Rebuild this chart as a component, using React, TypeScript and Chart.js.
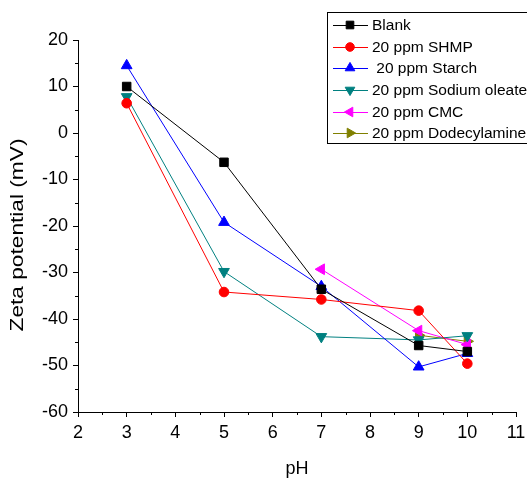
import React, { useEffect, useRef } from "react";
import { Chart, registerables } from "chart.js";
import { drawPoint } from "chart.js/helpers";

Chart.register(...registerables);

const FONT = "'Liberation Sans', Arial, sans-serif";

// pH values where zeta potential was measured
const phAll = [3, 5, 7, 9, 10];
const phCMC = [7, 9, 10];
const phDodecyl = [9, 10];

// Zeta potential (mV)
const blank = [10, -6.3, -33.6, -45.7, -47];
const shmp = [6.4, -34.2, -35.8, -38.2, -49.6];
const starch = [14.5, -19.2, -33, -50.3, -47.4];
const sodiumOleate = [7.8, -29.8, -43.8, -44.5, -43.6];
const cmc = [-29.3, -42.5, -45.5];
const dodecylamine = [-43.5, -44.8];

const seriesNames = [
  "Blank",
  "20 ppm SHMP",
  " 20 ppm Starch",
  "20 ppm Sodium oleate",
  "20 ppm CMC",
  "20 ppm Dodecylamine",
];

const xTicks = [2, 3, 4, 5, 6, 7, 8, 9, 10, 11];
const yTicks = [20, 10, 0, -10, -20, -30, -40, -50, -60];

const toPoints = (xs: number[], ys: number[]) => xs.map((x, i) => ({ x, y: ys[i] }));

const makeSet = (
  label: string,
  xs: number[],
  ys: number[],
  color: string,
  pointStyle: string,
  rotation: number,
  radius: number
) => ({
  label,
  data: toPoints(xs, ys),
  borderColor: color,
  backgroundColor: color,
  pointBackgroundColor: color,
  pointBorderColor: color,
  borderWidth: 1,
  pointBorderWidth: 1,
  pointStyle,
  pointRotation: rotation,
  pointRadius: radius,
  tension: 0,
});

// Minor ticks between the labelled ones, plus the two axis titles
const axisExtras = {
  id: "axisExtras",
  afterDraw(chart: any) {
    const ctx = chart.ctx;
    const xs = chart.scales.x;
    const ys = chart.scales.y;
    const area = chart.chartArea;
    ctx.save();
    ctx.strokeStyle = "#000";
    ctx.lineWidth = 1;
    ctx.beginPath();
    for (let v = 2.5; v < 11; v += 1) {
      const px = Math.round(xs.getPixelForValue(v)) + 0.5;
      ctx.moveTo(px, area.bottom);
      ctx.lineTo(px, area.bottom + 3);
    }
    for (let v = -55; v < 20; v += 10) {
      const py = Math.round(ys.getPixelForValue(v)) + 0.5;
      ctx.moveTo(area.left - 3, py);
      ctx.lineTo(area.left, py);
    }
    ctx.stroke();

    ctx.fillStyle = "#000";
    ctx.font = `18px ${FONT}`;
    ctx.textAlign = "center";
    ctx.textBaseline = "middle";
    ctx.fillText("pH", (area.left + area.right) / 2, 469);
    ctx.translate(18, 235);
    ctx.rotate(-Math.PI / 2);
    ctx.scale(1.26, 1);
    ctx.fillText("Zeta potential (mV)", 0, 0);
    ctx.restore();
  },
};

const legendBox = {
  id: "legendBox",
  afterDraw(chart: any) {
    const ctx = chart.ctx;
    ctx.save();
    ctx.strokeStyle = "#000";
    ctx.lineWidth = 1;
    ctx.strokeRect(327.5, 12.5, 210, 131);
    const rows = [25, 47, 68, 90, 112, 133];
    ctx.font = `15.5px ${FONT}`;
    ctx.textBaseline = "middle";
    ctx.textAlign = "left";
    chart.data.datasets.forEach((ds: any, i: number) => {
      const y = rows[i];
      ctx.strokeStyle = ds.borderColor;
      ctx.fillStyle = ds.borderColor;
      ctx.lineWidth = 1;
      ctx.beginPath();
      ctx.moveTo(333, y + 0.5);
      ctx.lineTo(368, y + 0.5);
      ctx.stroke();
      drawPoint(
        ctx,
        {
          pointStyle: ds.pointStyle,
          rotation: ds.pointRotation,
          radius: ds.pointRadius * 0.9,
          borderWidth: 1,
        } as any,
        350,
        y
      );
      ctx.fillStyle = "#000";
      ctx.fillText(seriesNames[i], 372, y + 1);
    });
    ctx.restore();
  },
};

export default function App() {
  const ref = useRef<HTMLCanvasElement | null>(null);

  useEffect(() => {
    if (!ref.current) return;
    Chart.defaults.font.family = FONT;
    const chart = new Chart(ref.current, {
      type: "line",
      data: {
        datasets: [
          makeSet(seriesNames[0], phAll, blank, "#000000", "rect", 0, 6),
          makeSet(seriesNames[1], phAll, shmp, "#ff0000", "circle", 0, 4.8),
          makeSet(seriesNames[2], phAll, starch, "#0000ff", "triangle", 0, 6.2),
          makeSet(seriesNames[3], phAll, sodiumOleate, "#008080", "triangle", 180, 6.2),
          makeSet(seriesNames[4], phCMC, cmc, "#ff00ff", "triangle", -90, 6.2),
          makeSet(seriesNames[5], phDodecyl, dodecylamine, "#808000", "triangle", 90, 6.2),
        ] as any,
      },
      options: {
        responsive: false,
        animation: false,
        layout: { padding: { left: 0, top: 40, right: 0, bottom: 0 } },
        plugins: {
          legend: { display: false },
          tooltip: { enabled: false },
        },
        scales: {
          x: {
            type: "linear",
            min: 2,
            max: 11,
            afterBuildTicks: (s: any) => {
              s.ticks = xTicks.map((v) => ({ value: v }));
            },
            afterFit: (s: any) => {
              s.height = 70;
              s.paddingRight = 11;
            },
            grid: {
              drawOnChartArea: false,
              drawTicks: true,
              tickLength: 5,
              color: "#000",
            },
            border: { display: true, color: "#000", width: 1 },
            ticks: {
              color: "#000",
              font: { size: 18, family: FONT },
              padding: 5,
              maxRotation: 0,
            },
          },
          y: {
            type: "linear",
            min: -60,
            max: 20,
            afterBuildTicks: (s: any) => {
              s.ticks = yTicks.map((v) => ({ value: v }));
            },
            afterFit: (s: any) => {
              s.width = 78;
            },
            grid: {
              drawOnChartArea: false,
              drawTicks: true,
              tickLength: 5,
              color: "#000",
            },
            border: { display: true, color: "#000", width: 1 },
            ticks: {
              color: "#000",
              font: { size: 18, family: FONT },
              padding: 5,
            },
          },
        },
      },
      plugins: [axisExtras, legendBox],
    });
    return () => chart.destroy();
  }, []);

  return (
    <div style={{ position: "fixed", left: 0, top: 0, width: 527, height: 482, background: "#fff" }}>
      <canvas ref={ref} width={527} height={482} />
    </div>
  );
}
